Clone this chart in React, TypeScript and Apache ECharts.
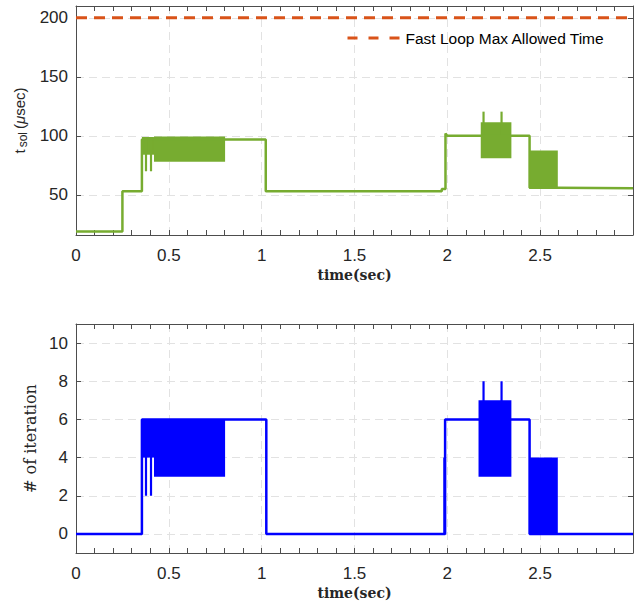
import React, { useEffect, useRef } from "react";
import * as echarts from "echarts";

// ---------- data ----------
const timeTicks = [0, 0.5, 1, 1.5, 2, 2.5];
const tsolTicks = [50, 100, 150, 200];
const iterTicks = [0, 2, 4, 6, 8, 10];

const legendName = "Fast Loop Max Allowed Time";
const maxAllowed: [number, number][] = [
  [0, 200],
  [3, 200],
];

// solve time trace (step points) [t, µs]
const tsolTrace: [number, number][] = [
  [0, 19], [0.25, 19], [0.25, 53], [0.355, 53], [0.355, 97],
  [0.803, 97], [1.022, 97], [1.022, 53], [1.97, 53], [1.97, 55],
  [1.99, 55], [1.99, 102], [2.0, 100], [2.18, 100], [2.345, 100],
  [2.443, 100], [2.443, 56], [2.595, 56], [3, 55.5],
];
// oscillating regions [tStart, tEnd, low, high]
const tsolBands: [number, number, number, number][] = [
  [0.355, 0.42, 84, 99],
  [0.42, 0.803, 78, 99.5],
  [2.18, 2.345, 81, 111.5],
  [2.443, 2.595, 55, 87.5],
];
// isolated spikes [t, low, high]
const tsolSpikes: [number, number, number][] = [
  [0.377, 70, 99],
  [0.404, 70, 99],
  [2.195, 100, 120.5],
  [2.292, 100, 120.5],
];

// iteration count trace
const iterTrace: [number, number][] = [
  [0, 0], [0.355, 0], [0.355, 6], [0.803, 6], [1.025, 6], [1.025, 0],
  [1.988, 0], [1.988, 6], [2.168, 6], [2.345, 6], [2.443, 6],
  [2.443, 0], [2.595, 0], [3, 0],
];
const iterBands: [number, number, number, number][] = [
  [0.355, 0.42, 4, 6],
  [0.42, 0.803, 3, 6],
  [2.168, 2.345, 3, 7],
  [2.443, 2.595, 0, 4],
];
const iterSpikes: [number, number, number][] = [
  [0.377, 2, 6],
  [0.404, 2, 6],
  [1.984, 0, 4],
  [2.195, 6, 8],
  [2.292, 6, 8],
];

// ---------- styles ----------
const GREEN = "#77AC30";
const ORANGE = "#D95319";
const BLUE = "#0000FF";
const AXIS = "#4d4d4d";
const GRIDC = "#e2e2e2";
const SANS = "Liberation Sans, Arial, sans-serif";

function bandSeries(data: number[][], xi: number, yi: number, color: string) {
  return {
    type: "custom",
    xAxisIndex: xi,
    yAxisIndex: yi,
    data,
    encode: { x: [0, 1], y: [2, 3] },
    renderItem: (_p: any, api: any) => {
      const a = api.coord([api.value(0), api.value(3)]);
      const b = api.coord([api.value(1), api.value(2)]);
      return {
        type: "rect",
        shape: { x: a[0], y: a[1], width: b[0] - a[0], height: b[1] - a[1] },
        style: { fill: color },
      };
    },
    silent: true,
    z: 3,
  };
}

function spikeSeries(data: number[][], xi: number, yi: number, color: string) {
  return {
    type: "custom",
    xAxisIndex: xi,
    yAxisIndex: yi,
    data,
    encode: { x: 0, y: [1, 2] },
    renderItem: (_p: any, api: any) => {
      const a = api.coord([api.value(0), api.value(1)]);
      const b = api.coord([api.value(0), api.value(2)]);
      return {
        type: "line",
        shape: { x1: a[0], y1: a[1], x2: b[0], y2: b[1] },
        style: { stroke: color, lineWidth: 2.2 },
      };
    },
    silent: true,
    z: 3,
  };
}

function xAxes(gridIndex: number) {
  const common = {
    gridIndex,
    type: "value",
    min: 0,
    max: 3,
    interval: 0.5,
    axisLine: { show: true, onZero: false, lineStyle: { color: AXIS, width: 1 } },
    axisTick: { show: true, inside: true, length: 5, lineStyle: { color: AXIS } },
    minorTick: { show: true, splitNumber: 5, length: 5, lineStyle: { color: AXIS } },
  };
  return [
    {
      ...common,
      position: "bottom",
      axisLabel: {
        show: true,
        customValues: timeTicks,
        margin: 12,
        fontSize: 17,
        fontFamily: SANS,
        color: "#262626",
        formatter: (v: number) => String(v),
      },
      splitLine: { show: true, lineStyle: { color: GRIDC, type: [8, 5], width: 1 } },
      name: "time(sec)",
      nameLocation: "middle",
      nameGap: 33,
      nameTextStyle: {
        fontFamily: "DejaVu Serif, serif",
        fontWeight: "bold",
        fontSize: 14,
        color: "#262626",
      },
    },
    {
      ...common,
      position: "top",
      axisLabel: { show: false },
      splitLine: { show: false },
    },
  ];
}

function yAxes(gridIndex: number, min: number, max: number, ticks: number[], name: string, nameGap: number, nameTextStyle: any) {
  const common = {
    gridIndex,
    type: "value",
    min,
    max,
    axisLine: { show: true, onZero: false, lineStyle: { color: AXIS, width: 1 } },
    axisTick: { show: true, inside: true, length: 5, customValues: ticks, lineStyle: { color: AXIS } },
  };
  return [
    {
      ...common,
      position: "left",
      axisLabel: {
        show: true,
        customValues: ticks,
        margin: 8,
        fontSize: 17,
        fontFamily: SANS,
        color: "#262626",
      },
      splitLine: { show: true, lineStyle: { color: GRIDC, type: [8, 5], width: 1 } },
      name,
      nameLocation: "middle",
      nameGap,
      nameRotate: 90,
      nameTextStyle,
    },
    {
      ...common,
      position: "right",
      axisLabel: { show: false },
      splitLine: { show: false },
    },
  ];
}

export default function App() {
  const ref = useRef<HTMLDivElement>(null);

  useEffect(() => {
    if (!ref.current) return;
    const chart = echarts.init(ref.current, null, { renderer: "svg" });

    const option: any = {
      animation: false,
      backgroundColor: "#ffffff",
      grid: [
        { left: 76, right: 10, top: 6, height: 229, containLabel: false },
        { left: 76, right: 10, top: 324, height: 229, containLabel: false },
      ],
      legend: {
        data: [legendName],
        left: 346,
        top: 30,
        padding: 0,
        itemWidth: 53,
        itemHeight: 14,
        itemGap: 5,
        itemStyle: { opacity: 0 },
        lineStyle: { type: [10, 11], width: 3, color: ORANGE },
        textStyle: { fontSize: 15.5, fontFamily: SANS, color: "#000" },
        selectedMode: false,
      },
      xAxis: [...xAxes(0), ...xAxes(1)],
      yAxis: [
        ...yAxes(0, 16, 210, tsolTicks, "{t|t}{s|sol}{t|(}{m|μ}{t|sec)}", 47, {
          color: "#262626",
          align: "center",
          verticalAlign: "bottom",
          rich: {
            t: { fontSize: 15, fontFamily: SANS, color: "#262626", lineHeight: 17, verticalAlign: "top" },
            m: { fontSize: 15, fontFamily: SANS, fontStyle: "italic", color: "#262626", lineHeight: 17, verticalAlign: "top" },
            s: { fontSize: 12, fontFamily: SANS, color: "#262626", lineHeight: 12, verticalAlign: "bottom", padding: [8, 3, 0, 2] },
          },
        }),
        ...yAxes(1, -1, 11, iterTicks, "# of iteration", 37, {
          fontFamily: "DejaVu Serif, serif",
          fontSize: 16,
          color: "#262626",
        }),
      ],
      series: [
        {
          name: legendName,
          type: "line",
          xAxisIndex: 0,
          yAxisIndex: 0,
          data: maxAllowed,
          showSymbol: false,
          symbol: "none",
          lineStyle: { color: ORANGE, width: 3, type: [11, 7] },
          itemStyle: { color: ORANGE },
          z: 5,
        },
        {
          name: "tsol",
          type: "line",
          xAxisIndex: 0,
          yAxisIndex: 0,
          data: tsolTrace,
          symbol: "none",
          lineStyle: { color: GREEN, width: 2.5 },
          z: 4,
        },
        bandSeries(tsolBands, 0, 0, GREEN),
        spikeSeries(tsolSpikes, 0, 0, GREEN),
        {
          name: "iter",
          type: "line",
          xAxisIndex: 2,
          yAxisIndex: 2,
          data: iterTrace,
          symbol: "none",
          lineStyle: { color: BLUE, width: 2.5 },
          z: 4,
        },
        bandSeries(iterBands, 2, 2, BLUE),
        spikeSeries(iterSpikes, 2, 2, BLUE),
      ],
    };
    chart.setOption(option);
    return () => chart.dispose();
  }, []);

  return (
    <div
      ref={ref}
      style={{ position: "absolute", left: 0, top: 0, width: 643, height: 606, background: "#fff" }}
    />
  );
}
